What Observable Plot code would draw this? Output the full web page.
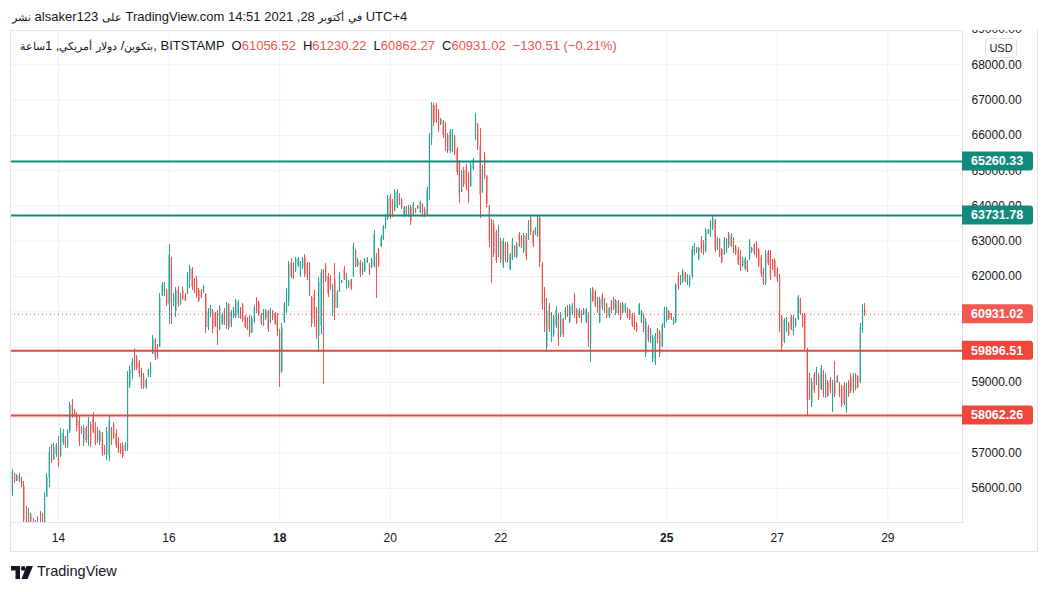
<!DOCTYPE html>
<html><head><meta charset="utf-8">
<script src="https://cdn.jsdelivr.net/npm/d3@7"></script>
<script src="https://cdn.jsdelivr.net/npm/@observablehq/plot@0.6"></script>
<style>
@font-face{font-family:"ArabicSmall";src:local("DejaVu Sans");unicode-range:U+0600-06FF,U+0750-077F,U+FB50-FDFF,U+FE70-FEFF;size-adjust:87%;}
html,body{margin:0;padding:0;background:#fff;}
body{font-family:"ArabicSmall","Liberation Sans","DejaVu Sans",Arial,sans-serif;color:#131722;}
#wrap{position:relative;width:1049px;height:592px;overflow:hidden;background:#fff;}
#chart{position:absolute;left:0;top:0;}
#cover{position:absolute;left:0;top:0;width:1049px;height:30px;background:#fff;}
#t1{position:absolute;left:12px;top:9px;font-size:13px;white-space:nowrap;direction:ltr;}
#t2{position:absolute;left:20px;top:38px;font-size:13px;white-space:nowrap;direction:ltr;}
#t2 .v{color:#ef5350;}
#t2 .g{margin-left:7px;}
#outer{position:absolute;left:10px;top:30px;width:1026px;height:521px;border:1px solid #e0e3eb;border-top:none;box-sizing:content-box;pointer-events:none;}
#usd{position:absolute;left:985px;top:38px;width:30px;height:18px;border:1px solid #e0e3eb;border-radius:4px;font-size:11px;line-height:18px;text-align:center;background:#fff;}
#logo{position:absolute;left:11px;top:566px;}
#brand{position:absolute;left:37px;top:563px;font-size:14.5px;color:#131722;}
</style></head>
<body>
<div id="wrap">
  <div id="chart"></div>
  <div id="cover"></div>
  <div id="outer"></div>
  <div id="t1">نشر alsaker123 على TradingView.com في أكتوبر 28, 2021 14:51 UTC+4</div>
  <div id="t2"></div>
  <div id="usd">USD</div>
  <svg id="logo" width="22" height="14" viewBox="0 0 22 14"><path d="M0 0H9V13H4.5V4.5H0Z" fill="#131722"/><circle cx="12.2" cy="2.4" r="2.3" fill="#131722"/><path d="M15.5 0H22L16.5 13H10.5Z" fill="#131722"/></svg>
  <div id="brand">TradingView</div>
</div>
<script>
// hourly candles, BITSTAMP BTC/USD, first candle 13 Oct 2021 04:00 (UTC+4 shown as local)
const firstCandle = Date.UTC(2021, 9, 13, 4);
const opens = [
55850,56400,56200,56350,56200,56050,55100,54900,55250,54850,
54600,54500,55000,54850,54800,55750,56300,57000,56800,56950,
57200,56900,57300,57450,57200,57600,58350,58200,58050,57900,
57700,57300,57700,57350,57800,58000,57650,57650,57300,57550,
57150,56950,56900,57700,57800,57550,57350,57200,57200,57050,
57100,58900,59250,59800,59700,59550,59300,59150,58850,59150,
59250,59800,60200,60000,60000,61450,61500,61600,61200,62500,
61250,61000,61650,61200,61600,61450,61500,61900,62200,61850,
61900,61600,61600,61550,61500,60550,60900,61000,60900,60950,
60500,60650,61000,60600,61200,60600,60850,60850,60900,61100,
61200,60850,60800,60850,60400,60700,61350,61250,60900,60650,
60800,61000,60700,61000,60950,60900,60450,59300,60700,61000,
61300,62400,62350,62150,62300,62000,62250,62550,62350,62300,
61400,61500,61050,60300,60600,62150,62300,62000,61950,60950,
61900,61100,61550,61810,62200,61700,61700,61900,62000,62700,
62300,62400,62050,62150,62400,62350,62250,62300,62600,62750,
62850,63050,63350,63650,64250,64150,63850,63950,64300,64150,
63700,63950,63700,63950,63750,63900,64000,63800,64050,63900,
63750,64450,65900,66850,66850,66650,66300,66400,66300,66000,
65550,65550,65950,65600,65250,64400,65000,65100,64900,64550,
65050,65900,66300,65700,64400,65400,64850,64000,63500,63450,
63250,62600,63000,62300,62900,62900,62200,62500,62850,62550,
63200,63100,62700,63150,63050,63650,63250,63200,63150,63650,
62350,61600,60000,61150,60300,60350,60600,60900,60300,60800,
60800,61100,60700,60950,61450,61050,60850,61000,60900,60700,
60950,60100,61650,61550,61350,60700,61450,61000,61200,60850,
61300,61350,60950,61300,61200,60960,61000,61100,61050,60900,
60900,60650,60900,60700,60900,59800,60550,60150,59650,59550,
60500,60400,60000,60550,60750,61000,60950,60650,60700,62000,
61750,61850,62100,61800,61750,62000,62650,62800,62500,63050,
62950,62700,63200,63150,63350,63600,62750,63050,62750,62600,
62700,63200,62850,63050,62850,62750,62650,62280,62200,62400,
62500,62700,62900,62950,62750,62550,62200,61800,62700,62650,
62450,62450,62200,62000,60850,60150,60450,60650,60850,60400,
60600,60800,61350,60900,60900,59950,59150,58400,59200,58950,
59200,58800,59300,58600,59000,59050,58200,59050,58980,58950,
58850,58900,58200,59000,59150,58750,59200,59150,59000,60500,
61056.52];
const highs = [
56532,56419,56390,56419,56305,56192,55483,55427,55285,55144,
55087,55200,55342,55285,55880,56419,57155,57240,57269,57269,
57467,57694,57665,57467,57665,58431,58516,58233,58147,58034,
57751,57779,57751,58006,57864,58147,57864,57722,57637,57580,
57212,57722,58034,57722,57864,57665,57439,57269,57297,57297,
59309,59451,59676,59961,59762,59620,59394,59252,59110,59366,
59563,60329,60244,60074,61519,61831,61831,61632,62908,62540,
61519,61689,61717,61519,61689,61519,62114,62312,62256,61944,
62001,61661,61632,61746,61519,61094,61179,61066,60981,61037,
61179,60952,61094,61264,61236,61037,61122,61349,61321,61122,
61236,60896,60839,60896,60867,61179,61406,61292,60952,61066,
61066,61037,61094,61037,60981,60952,60499,60669,61264,61661,
62426,62511,62398,62539,62539,62426,62539,62624,62398,62398,
61434,61604,61122,61973,62199,62199,62369,62086,62029,61774,
62369,61604,62114,61887,62284,62086,61887,61916,62936,62766,
62511,62454,62398,62511,62539,62369,62511,63304,62653,62794,
63162,63446,63758,64296,64325,64183,64466,64466,64353,64211,
63985,63985,64013,64013,64098,63928,64013,64126,64070,63956,
64523,66053,66932,66904,66904,66733,66478,66421,66365,66053,
66166,66166,65996,65656,65288,65005,65090,65174,64948,65231,
65345,66620,66336,66195,65146,65514,64863,64013,63616,63588,
63304,63446,63077,63077,62964,62964,62653,63077,62879,62964,
63248,63162,63219,63219,63588,63730,63304,63389,63701,63701,
62398,61689,61377,61236,60981,60896,61151,60952,60981,60811,
61122,61179,61207,61236,61519,61094,61094,61037,61094,61094,
60981,61661,61689,61604,61406,61406,61519,61378,61236,61122,
61321,61406,61349,61321,61236,61264,61236,61122,61066,60952,
60952,60697,61236,61037,60952,60811,60613,60528,60329,60386,
60528,60471,60669,61122,61122,61037,60952,60839,61802,62114,
62029,62199,62114,62058,62029,62851,62936,62823,62823,63134,
63021,63361,63333,63588,63701,63616,63106,63077,62794,63106,
63077,63248,63219,63106,62879,62823,62738,62539,62539,62454,
63049,62823,62936,62993,62794,62596,62228,62738,62738,62738,
62483,62511,62256,62058,60896,60811,60839,60697,60896,60896,
60811,61462,61377,60952,60952,59961,59252,59110,59281,59422,
59252,59479,59337,59252,59054,59139,59054,59592,59195,58997,
58912,58997,58969,59054,59252,59252,59252,59195,60669,61207,
61230.22];
const lows = [
55767,56135,56192,56164,56022,54600,54700,54500,54600,54400,
54350,54400,54700,54750,54750,55738,56022,56702,56787,56872,
56589,56872,57212,57127,57127,57552,57978,58006,57609,57184,
57524,57184,57269,57184,57155,57552,57212,57269,57212,56900,
56929,56787,56759,57212,57382,57127,56986,56958,56843,57042,
57042,58828,59082,59337,59337,59139,58800,58800,58800,59139,
59139,59790,59620,59649,59989,61434,61434,61151,60640,60640,
61151,60839,61122,61179,61321,61292,61491,61661,61604,61519,
61378,61264,61378,61519,60386,60471,60839,60386,60556,60045,
60471,60612,60612,60499,60471,60556,60811,60811,60811,60782,
60697,60528,60471,60272,60386,60669,60952,60867,60612,60584,
60754,60414,60669,60754,60612,60301,58856,59252,60669,60952,
61151,61944,61916,62114,62256,61973,62199,61973,61887,61434,
60556,60556,60216,59847,60357,58941,61831,61406,61604,60867,
60754,61094,61547,61802,61887,61632,61661,61604,61973,62256,
62256,61973,62029,62114,62369,62029,62228,62256,61380,62256,
62823,63021,63333,63588,63616,63673,63843,63928,64013,63900,
63673,63701,63673,63446,63701,63786,63900,63786,63673,63673,
63701,64154,65713,66251,66336,66081,66280,65911,65543,65486,
65486,65514,65430,64863,64070,64381,64523,64438,64070,64523,
65005,65855,65571,63644,64353,64750,63956,62823,61802,62539,
62369,62539,62369,62228,62398,62369,62171,62454,62539,62511,
62823,62794,62653,62454,63021,63163,62823,63163,63106,62256,
61037,60414,59847,60414,60131,60272,60528,60018,60272,60272,
60754,60839,60669,60896,60811,60641,60811,60669,60896,60669,
59989,59563,61264,61122,60952,60669,61037,60952,60811,60811,
60952,61037,60896,60896,60754,60952,60952,60811,60754,60556,
60471,60414,60896,60669,60414,59705,60131,60103,59563,59478,
60103,59705,59989,60528,60697,60754,60754,60612,60669,61604,
61746,61802,61831,61746,61689,61944,62596,62653,62454,62653,
62596,62681,63191,63106,63304,62681,62738,62539,62369,62596,
62653,62794,62823,62653,62596,62313,62143,62256,62171,62114,
62454,62653,62596,62511,62256,61973,61746,61746,62313,61888,
62171,61973,61831,60414,59850,60103,60414,60301,60471,60329,
60556,60754,60896,60556,59904,58062,58487,58289,58687,58913,
58487,58771,58572,58544,58572,58686,58147,58572,58969,58572,
58289,58346,58119,58572,58686,58686,58771,58827,58969,60386,
60862.27];
const closes = [
56450,56200,56350,56200,56050,55100,54900,55300,54850,54600,
54500,55000,54850,54800,55750,56300,57000,56750,57150,57200,
56700,57600,57550,57200,57600,58350,58050,58050,57700,57300,
57550,57700,57350,57900,57250,57600,57250,57350,57600,57000,
56950,57600,57900,57250,57400,57200,57000,57000,56900,57250,
59200,59350,59600,59400,59400,59250,58900,58850,59050,59350,
59500,60250,59700,59700,61400,61750,61800,61200,62600,61250,
61450,61600,61200,61450,61350,61300,62000,62250,61700,61550,
61450,61300,61400,61700,60550,61000,61150,60500,60600,60300,
61100,60900,60650,61200,60550,61000,61100,61300,61250,60800,
60750,60550,60500,60350,60800,61100,61000,60900,60650,61000,
61050,60500,61050,60800,60650,60400,59300,60550,61200,61600,
62350,62000,62000,62500,62500,62400,62500,62050,61950,61500,
60650,60800,60300,61850,62100,61900,61900,61500,61650,61700,
61100,61550,62050,61880,61900,62050,61850,61650,62850,62300,
62450,62050,62350,62450,62500,62100,62450,63200,62200,62300,
63100,63400,63700,64200,63700,63750,64400,64400,64050,63950,
63950,63750,63950,63550,64050,63800,63920,64100,63700,63700,
64450,65950,66850,66350,66400,66150,66450,66000,65650,65550,
66100,66100,65500,64950,64300,64950,64600,64500,64150,65150,
65300,66550,65700,64300,65050,64850,64050,63000,62100,62650,
62450,63350,62450,63000,62450,62450,62600,63000,62550,62900,
62850,62850,63150,62550,63500,63250,62900,63350,63650,62400,
61200,60600,61000,60500,60900,60850,61050,60150,60900,60350,
61050,60900,61150,61200,60900,60700,61050,60700,61050,61050,
60150,61550,61300,61150,61000,61350,61100,61350,60850,61100,
61000,61050,61300,60950,60800,61200,61200,60850,60800,60600,
60500,60450,61200,61000,60500,60700,60200,60500,60250,60300,
60150,59800,60600,61050,61100,60800,60800,60800,61750,61700,
61950,62150,61850,62000,62000,62750,62900,62680,62800,62700,
62650,63300,63320,63550,63650,62750,63050,62600,62400,63050,
63050,62850,63150,62700,62650,62350,62200,62500,62500,62150,
63000,62800,62650,62550,62300,62050,61800,62650,62350,61950,
62200,62000,61900,60550,60000,60750,60800,60350,60500,60850,
60800,61400,60950,60600,59950,58500,58550,59000,58750,59350,
58550,59400,58650,59150,58600,58750,58950,58650,59150,58600,
58350,58400,58900,58650,58750,59200,58800,58850,60550,61061.53,
60931.02];

// horizontal levels drawn on the chart
const levelValues = [65260.33, 63731.78, 59896.51, 58062.26];
const levelColors = ["#138a7c", "#138a7c", "#e0493e", "#e0493e"];
const tagColors   = ["#12897b", "#12897b", "#f0463b", "#f0463b"];
const lastTagColor = "#f05a52";

// axes: grid at every 1000; labels hidden where a price tag covers them (as in the reference)
const gridPrices = [56000,57000,58000,59000,60000,61000,62000,63000,64000,65000,66000,67000,68000,69000];
const labelPrices = [56000,57000,59000,62000,63000,64000,65000,66000,67000,68000,69000];
const dayTicks = [14,16,18,20,22,25,27,29];
const boldDays = [18,25];
const xDomain = [Date.UTC(2021,9,13,3,11), Date.UTC(2021,9,30,8,24)];
const yDomain = [55030, 68972];

const UP = "#26a69a", DOWN = "#ef5350";

const candles = opens.map((o, i) => ({
  date: new Date(firstCandle + i * 3600000),
  open: o, high: highs[i], low: lows[i], close: closes[i],
  up: closes[i] >= o
}));
const last = candles[candles.length - 1];
const prev = candles[candles.length - 2];
const dayDate = d => new Date(Date.UTC(2021, 9, d));
const levels = levelValues.map((v, i) => ({value: v, color: levelColors[i], tag: tagColors[i]}));

const chart = Plot.plot({
  width: 1049, height: 560,
  marginLeft: 10, marginRight: 87, marginTop: 30, marginBottom: 38,
  x: {type: "utc", domain: xDomain},
  y: {domain: yDomain},
  style: {fontFamily: '"Liberation Sans", Arial, sans-serif', fontSize: "12px", color: "#131722", background: "transparent", overflow: "visible"},
  marks: [
    Plot.ruleY(gridPrices, {stroke: "#eef0f4", strokeWidth: 1}),
    Plot.ruleX(dayTicks.map(dayDate), {stroke: "#eef0f4", strokeWidth: 1}),
    Plot.frame({stroke: "#e0e3eb"}),
    Plot.axisY(labelPrices, {anchor: "right", tickSize: 0, tickPadding: 9, tickFormat: d => d.toFixed(2), fill: "#131722", fontSize: 12}),
    Plot.axisX(dayTicks.filter(d => !boldDays.includes(d)).map(dayDate), {anchor: "bottom", tickSize: 0, tickPadding: 11, tickFormat: d => String(d.getUTCDate()), fill: "#131722", fontSize: 12}),
    Plot.axisX(boldDays.map(dayDate), {anchor: "bottom", tickSize: 0, tickPadding: 11, tickFormat: d => String(d.getUTCDate()), fill: "#131722", fontSize: 12, fontWeight: "bold"}),
    Plot.ruleY([last.close], {stroke: DOWN, strokeWidth: 1, strokeDasharray: "1 3"}),
    Plot.ruleX(candles, {x: "date", y1: "low", y2: "high", stroke: d => d.up ? UP : DOWN, strokeWidth: 1, clip: true, shapeRendering: "crispEdges"}),
    Plot.ruleX(candles, {x: "date", y1: "open", y2: "close", stroke: d => d.up ? UP : DOWN, strokeWidth: 1.2, clip: true}),
    Plot.ruleY(levels, {y: "value", stroke: "color", strokeWidth: 2})
  ]
});
document.getElementById("chart").appendChild(chart);

// price tags on the right axis, positioned with the plot's own y scale
const ys = chart.scale("y");
const svg = d3.select(chart);
const tagData = levels.map(l => ({value: l.value, color: l.tag})).concat([{value: last.close, color: lastTagColor}]);
const g = svg.append("g");
tagData.forEach(t => {
  const yy = ys.apply(t.value);
  g.append("path")
    .attr("d", `M962,${yy-9.5}H1030a3,3 0 0 1 3,3V${yy+6.5}a3,3 0 0 1 -3,3H962Z`)
    .attr("fill", t.color);
  g.append("text").attr("x", 971).attr("y", yy + 4.5)
    .attr("text-anchor", "start")
    .attr("fill", "#fff").attr("font-size", 12.5).attr("font-weight", "bold")
    .attr("font-family", '"Liberation Sans", Arial, sans-serif')
    .text(t.value.toFixed(2));
});

// legend row
const fmt = v => v.toFixed(2);
const chg = last.close - prev.close;
const pct = chg / prev.close * 100;
const minus = s => s.replace("-", "\u2212");
document.getElementById("t2").innerHTML =
  'بتكوين/ دولار أمريكي, 1ساعة, BITSTAMP' +
  '<span class="g">O<span class="v">' + fmt(last.open) + '</span></span>' +
  '<span class="g">H<span class="v">' + fmt(last.high) + '</span></span>' +
  '<span class="g">L<span class="v">' + fmt(last.low) + '</span></span>' +
  '<span class="g">C<span class="v">' + fmt(last.close) + '</span></span>' +
  '<span class="g v">' + minus(chg.toFixed(2)) + ' (' + minus(pct.toFixed(2)) + '%)</span>';
</script>
</body></html>
